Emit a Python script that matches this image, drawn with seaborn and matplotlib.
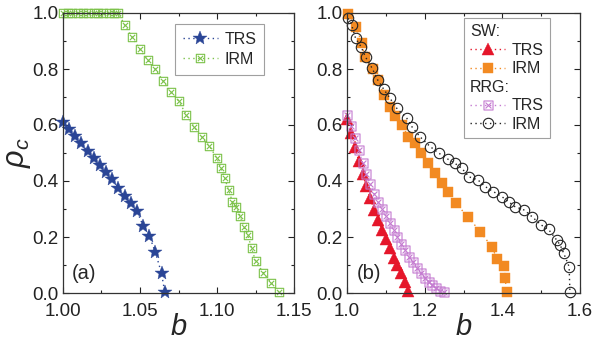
import numpy as np
import matplotlib
matplotlib.use("Agg")
import matplotlib.pyplot as plt
import seaborn as sns
from matplotlib.path import Path
from matplotlib.lines import Line2D
from matplotlib.ticker import MultipleLocator, FormatStrFormatter

# panel (a)
a_trs_b = [1.000, 1.004, 1.008, 1.012, 1.016, 1.020, 1.024, 1.028, 1.032, 1.036,
           1.040, 1.044, 1.048, 1.052, 1.056, 1.060, 1.064, 1.066]
a_trs_rho = [0.610, 0.586, 0.561, 0.535, 0.508, 0.481, 0.457, 0.433, 0.406, 0.376,
             0.346, 0.320, 0.293, 0.240, 0.205, 0.145, 0.070, 0.005]
a_irm_b = [1.000, 1.003, 1.006, 1.010, 1.013, 1.016, 1.020, 1.023, 1.026, 1.030, 1.033, 1.036,
           1.040, 1.045, 1.050, 1.055, 1.060, 1.065, 1.070, 1.075, 1.080, 1.085, 1.090,
           1.095, 1.100, 1.1025, 1.105, 1.1075, 1.110, 1.1125, 1.115, 1.1175, 1.120,
           1.1225, 1.125, 1.130, 1.135, 1.140]
a_irm_rho = [1.0] * 12 + [0.957, 0.913, 0.870, 0.832, 0.799, 0.757, 0.719, 0.687, 0.637,
                          0.594, 0.558, 0.525, 0.481, 0.445, 0.410, 0.368, 0.326, 0.308,
                          0.275, 0.237, 0.206, 0.160, 0.114, 0.073, 0.037, 0.005]

# panel (b)
sw_trs_b = [1.000, 1.010, 1.020, 1.030, 1.040, 1.050, 1.060, 1.070, 1.080, 1.090,
            1.100, 1.110, 1.120, 1.130, 1.140, 1.150, 1.157]
sw_trs_rho = [0.620, 0.572, 0.523, 0.473, 0.425, 0.382, 0.338, 0.296, 0.261, 0.225,
              0.192, 0.160, 0.126, 0.100, 0.070, 0.040, 0.008]
sw_irm_b = [1.003, 1.023, 1.038, 1.046, 1.066, 1.081, 1.094, 1.111, 1.124, 1.141,
            1.158, 1.174, 1.190, 1.208, 1.227, 1.244, 1.261, 1.280, 1.311, 1.343,
            1.373, 1.387, 1.405, 1.407, 1.411]
sw_irm_rho = [0.996, 0.951, 0.894, 0.842, 0.800, 0.761, 0.707, 0.665, 0.633, 0.600,
              0.558, 0.535, 0.501, 0.463, 0.427, 0.394, 0.362, 0.320, 0.273, 0.219,
              0.165, 0.120, 0.095, 0.055, 0.005]
rrg_trs_b = [1.00, 1.01, 1.02, 1.03, 1.04, 1.05, 1.06, 1.07, 1.08, 1.09, 1.10, 1.11, 1.12,
             1.13, 1.14, 1.15, 1.16, 1.17, 1.18, 1.19, 1.20, 1.21, 1.22, 1.23, 1.24, 1.25]
rrg_trs_rho = [0.635, 0.595, 0.555, 0.510, 0.465, 0.425, 0.388, 0.355, 0.325, 0.300,
               0.275, 0.250, 0.225, 0.200, 0.175, 0.152, 0.130, 0.110, 0.090, 0.072,
               0.055, 0.040, 0.028, 0.018, 0.008, 0.002]
rrg_irm_b = [1.003, 1.012, 1.022, 1.036, 1.048, 1.065, 1.079, 1.094, 1.111, 1.128,
             1.154, 1.167, 1.188, 1.214, 1.237, 1.261, 1.278, 1.296, 1.314, 1.337,
             1.356, 1.377, 1.399, 1.416, 1.433, 1.457, 1.476, 1.500, 1.519, 1.540,
             1.549, 1.558, 1.572, 1.574]
rrg_irm_rho = [0.981, 0.957, 0.910, 0.880, 0.842, 0.802, 0.761, 0.729, 0.695, 0.660,
               0.624, 0.594, 0.558, 0.523, 0.499, 0.477, 0.463, 0.445, 0.415, 0.404,
               0.380, 0.362, 0.344, 0.326, 0.308, 0.296, 0.273, 0.243, 0.227, 0.189,
               0.171, 0.142, 0.094, 0.005]

sns.set_style("ticks")
plt.rcParams['font.family'] = ['Liberation Sans', 'DejaVu Sans']
plt.rcParams['mathtext.fontset'] = 'custom'
plt.rcParams['mathtext.it'] = 'Liberation Sans:italic'
plt.rcParams['mathtext.rm'] = 'Liberation Sans'

# square with a cross inside
boxx = Path([(-1, -1), (1, -1), (1, 1), (-1, 1), (-1, -1),
             (-0.65, -0.65), (0.65, 0.65), (-0.65, 0.65), (0.65, -0.65)],
            [Path.MOVETO, Path.LINETO, Path.LINETO, Path.LINETO, Path.CLOSEPOLY,
             Path.MOVETO, Path.LINETO, Path.MOVETO, Path.LINETO])

fig = plt.figure(figsize=(5.95, 3.44), dpi=100)
ax1 = fig.add_axes([63 / 595, 51 / 344, 231 / 595, 280 / 344])
ax2 = fig.add_axes([347 / 595, 51 / 344, 233 / 595, 280 / 344])

blue = '#2a4596'
green = '#7cc24a'
red = '#e5162a'
orange = '#f28a22'
purple = '#c47ad0'

def series(ax, b, rho, color, marker, ms, label, mfc=None, mew=0.8):
    sns.lineplot(x=b, y=rho, ax=ax, color=color, linestyle=(0, (1, 2.5)), lw=1.0,
                 marker=marker, markersize=ms, markeredgecolor=color,
                 markerfacecolor=color if mfc is None else mfc, markeredgewidth=mew,
                 estimator=None, sort=False, label=label, clip_on=False)

series(ax1, a_trs_b, a_trs_rho, blue, '*', 10, 'TRS', mew=0.3)
series(ax1, a_irm_b, a_irm_rho, green, boxx, 6, 'IRM', mfc='none')

series(ax2, sw_trs_b, sw_trs_rho, red, '^', 9, 'TRS', mew=0.3)
series(ax2, sw_irm_b, sw_irm_rho, orange, 's', 6.5, 'IRM', mew=0.3)
series(ax2, rrg_trs_b, rrg_trs_rho, purple, boxx, 6.5, 'TRS', mfc='none')
series(ax2, rrg_irm_b, rrg_irm_rho, '#222222', 'o', 7.5, 'IRM', mfc='none')

ax1.set_xlim(1.0, 1.15)
ax1.xaxis.set_major_locator(MultipleLocator(0.05))
ax1.xaxis.set_minor_locator(MultipleLocator(0.025))
ax2.set_xlim(1.0, 1.6)
ax2.xaxis.set_major_locator(MultipleLocator(0.2))
ax2.xaxis.set_minor_locator(MultipleLocator(0.1))

for ax in (ax1, ax2):
    ax.set_ylim(0, 1.0)
    ax.yaxis.set_major_locator(MultipleLocator(0.2))
    ax.yaxis.set_minor_locator(MultipleLocator(0.1))
    ax.tick_params(which='both', direction='in', top=True, right=True,
                   labelsize=13.5, colors='#222222')
    ax.tick_params(which='major', length=4, width=0.8)
    ax.tick_params(which='minor', length=2.5, width=0.8)
    ax.tick_params(axis='x', which='major', pad=7)
    ax.tick_params(axis='y', which='major', pad=3)
    for s in ax.spines.values():
        s.set_linewidth(0.9)
        s.set_color('#333333')
    ax.set_xlabel(r'$b$', fontsize=21, labelpad=-5)
    ax.set_ylabel('')
    ax.yaxis.set_major_formatter(FormatStrFormatter('%.1f'))

ax1.xaxis.set_major_formatter(FormatStrFormatter('%.2f'))
ax2.xaxis.set_major_formatter(FormatStrFormatter('%.1f'))

ax1.set_ylabel(r'$\rho_c$', fontsize=22, labelpad=0)

ax1.text(0.04, 0.035, '(a)', transform=ax1.transAxes, fontsize=14.5, ha='left', va='bottom')
ax2.text(0.04, 0.035, '(b)', transform=ax2.transAxes, fontsize=14.5, ha='left', va='bottom')

# legends
leg1 = ax1.legend(loc='upper right', bbox_to_anchor=(0.871, 0.961), borderaxespad=0,
                  fontsize=11.5, frameon=True, fancybox=False, edgecolor='#888888',
                  handlelength=2.2, handletextpad=0.4, borderpad=0.5, labelspacing=0.3)
leg1.get_frame().set_linewidth(0.8)

lines = ax2.get_lines()
blank = Line2D([], [], linestyle='none')
handles = [blank, lines[0], lines[1], blank, lines[2], lines[3]]
labels = ['SW:', 'TRS', 'IRM', 'RRG:', 'TRS', 'IRM']
leg2 = ax2.legend(handles, labels, loc='upper right', bbox_to_anchor=(0.871, 0.982),
                  borderaxespad=0, fontsize=11.5, frameon=True, fancybox=False,
                  edgecolor='#888888', handlelength=2.2, handletextpad=0.4,
                  borderpad=0.4, labelspacing=0.22)
leg2.get_frame().set_linewidth(0.8)
# pull the header rows to the left edge
for col in leg2._legend_handle_box.get_children():
    rows = col.get_children()
    for i in (0, 3):
        rows[i].get_children()[0].width = 0
        rows[i].sep = 0

fig.savefig('out.png', dpi=100)
